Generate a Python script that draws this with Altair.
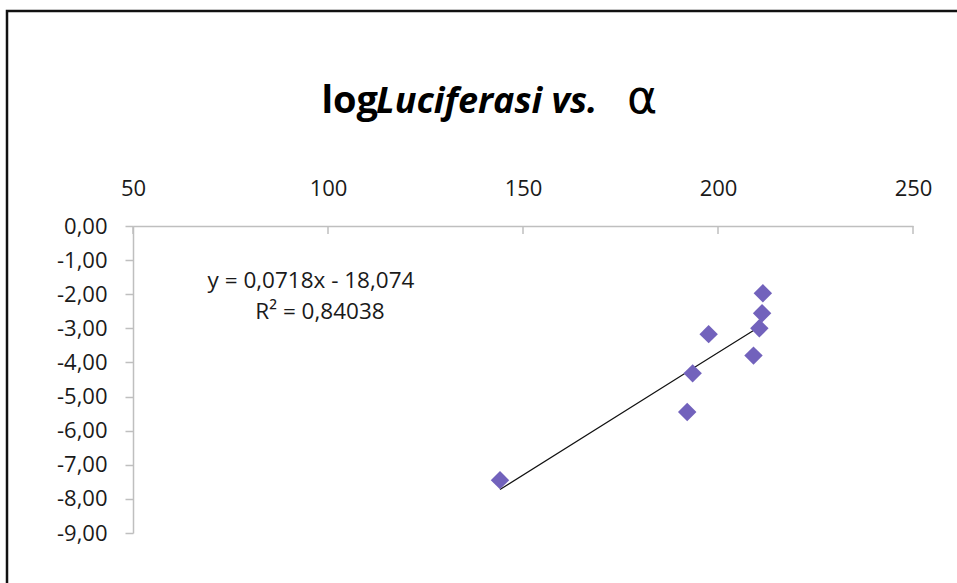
import altair as alt
import pandas as pd

# Measured alpha values and log(luciferase) activity
alpha = [144.1, 192.1, 193.5, 197.6, 209.1, 210.6, 211.3, 211.5]
log_luciferasi = [-7.45, -5.45, -4.32, -3.17, -3.80, -3.00, -2.56, -1.97]

# Axis ticks
x_ticks = [50, 100, 150, 200, 250]
y_ticks = [0, -1, -2, -3, -4, -5, -6, -7, -8, -9]

# Linear trendline
slope = 0.0718
intercept = -18.074
r_squared = 0.84038

# Title pieces (regular / italic / symbol)
title_parts = ["log", "Luciferasi vs.", "\u03b1"]

FONT = "Open Sans"
W, H = 780, 307
PAD = {"left": 133, "top": 226, "right": 957 - 133 - W, "bottom": 583 - 226 - H}
POINT_COLOR = "#7262BC"
AXIS_GRAY = "#BFBFBF"

points = pd.DataFrame({"alpha": alpha, "logLuc": log_luciferasi})
ticks_df = pd.DataFrame({"t": x_ticks})

x_scale = alt.Scale(domain=[50, 250], nice=False, zero=False)
y_scale = alt.Scale(domain=[-9, 0], nice=False, zero=False)

x_axis = alt.Axis(
    orient="top", values=x_ticks, ticks=False, grid=False, title=None,
    domainColor=AXIS_GRAY, domainWidth=1.5, labelFont=FONT, labelFontSize=22,
    labelColor="#1a1a1a", labelPadding=31, labelBaseline="alphabetic",
    labelFlush=False, labelOverlap=False, format="d",
)
y_axis = alt.Axis(
    values=y_ticks, grid=False, title=None, tickSize=8, tickColor=AXIS_GRAY,
    tickWidth=1.5, domainColor=AXIS_GRAY, domainWidth=1.5, labelFont=FONT,
    labelFontSize=22, labelColor="#1a1a1a", labelPadding=18,
    labelOverlap=False, labelFlush=False,
    labelExpr="(datum.value < 0 ? '-' : '') + replace(format(abs(datum.value), '.2f'), '.', ',')",
)

# Downward tick marks on the top axis (first layer, so it carries the x axis)
x_tick_marks = alt.Chart(ticks_df).mark_rule(color=AXIS_GRAY, strokeWidth=1.5).encode(
    x=alt.X("t:Q", scale=x_scale, axis=x_axis),
    y=alt.value(0),
    y2=alt.value(8),
)

trend = alt.Chart(points).transform_calculate(
    fit=f"{slope} * datum.alpha + ({intercept})"
).mark_line(color="#111111", strokeWidth=1.2).encode(
    x=alt.X("alpha:Q", scale=x_scale, axis=x_axis),
    y=alt.Y("fit:Q", scale=y_scale, axis=y_axis),
)

scatter = alt.Chart(points).mark_point(
    shape="diamond", filled=True, size=340, color=POINT_COLOR, opacity=1
).encode(
    x=alt.X("alpha:Q", scale=x_scale, axis=x_axis),
    y=alt.Y("logLuc:Q", scale=y_scale, axis=y_axis),
)

eq_line1 = f"y = {slope:.4f}x - {abs(intercept):.3f}".replace(".", ",")
eq_line2 = f"R\u00b2 = {r_squared:.5f}".replace(".", ",")
eq_df = pd.DataFrame({"line": [eq_line1]})
eq2_df = pd.DataFrame({"line": [eq_line2]})

eq1 = alt.Chart(eq_df).mark_text(
    font=FONT, fontSize=22.5, color="#1a1a1a", align="center", baseline="alphabetic"
).encode(text="line:N", x=alt.value(311 - 133), y=alt.value(288 - 226))
eq2 = alt.Chart(eq2_df).mark_text(
    font=FONT, fontSize=22.5, color="#1a1a1a", align="center", baseline="alphabetic"
).encode(text="line:N", x=alt.value(320 - 133), y=alt.value(319 - 226))

title_df = pd.DataFrame({"a": [title_parts[0]], "b": [title_parts[1]], "c": [title_parts[2]]})
t1 = alt.Chart(title_df).mark_text(
    font=FONT, fontSize=38, fontWeight="bold", color="#000000", align="right", baseline="alphabetic"
).encode(text="a:N", x=alt.value(378 - 133), y=alt.value(113 - 226))
t2 = alt.Chart(title_df).mark_text(
    font=FONT, fontSize=36, fontWeight="bold", fontStyle="italic", color="#000000",
    align="left", baseline="alphabetic"
).encode(text="b:N", x=alt.value(376 - 133), y=alt.value(113 - 226))
t3 = alt.Chart(title_df).mark_text(
    font="DejaVu Sans", fontSize=46, color="#000000", align="left", baseline="alphabetic"
).encode(text="c:N", x=alt.value(627 - 133), y=alt.value(113 - 226))

# Outer chart frame (top and left edges visible)
frame = alt.Chart(pd.DataFrame({"k": [0]})).mark_rect(
    fill=None, stroke="#111111", strokeWidth=2.5
).encode(
    x=alt.value(7 - 133), x2=alt.value(1200), y=alt.value(11 - 226), y2=alt.value(800)
)

chart = alt.layer(
    x_tick_marks, trend, scatter, frame, eq1, eq2, t1, t2, t3
).properties(
    width=W, height=H, padding=PAD,
    autosize=alt.AutoSizeParams(type="none"),
    background="white",
).configure_view(stroke=None)

chart.save("out.html", embed_options={"renderer": "svg", "actions": False})
